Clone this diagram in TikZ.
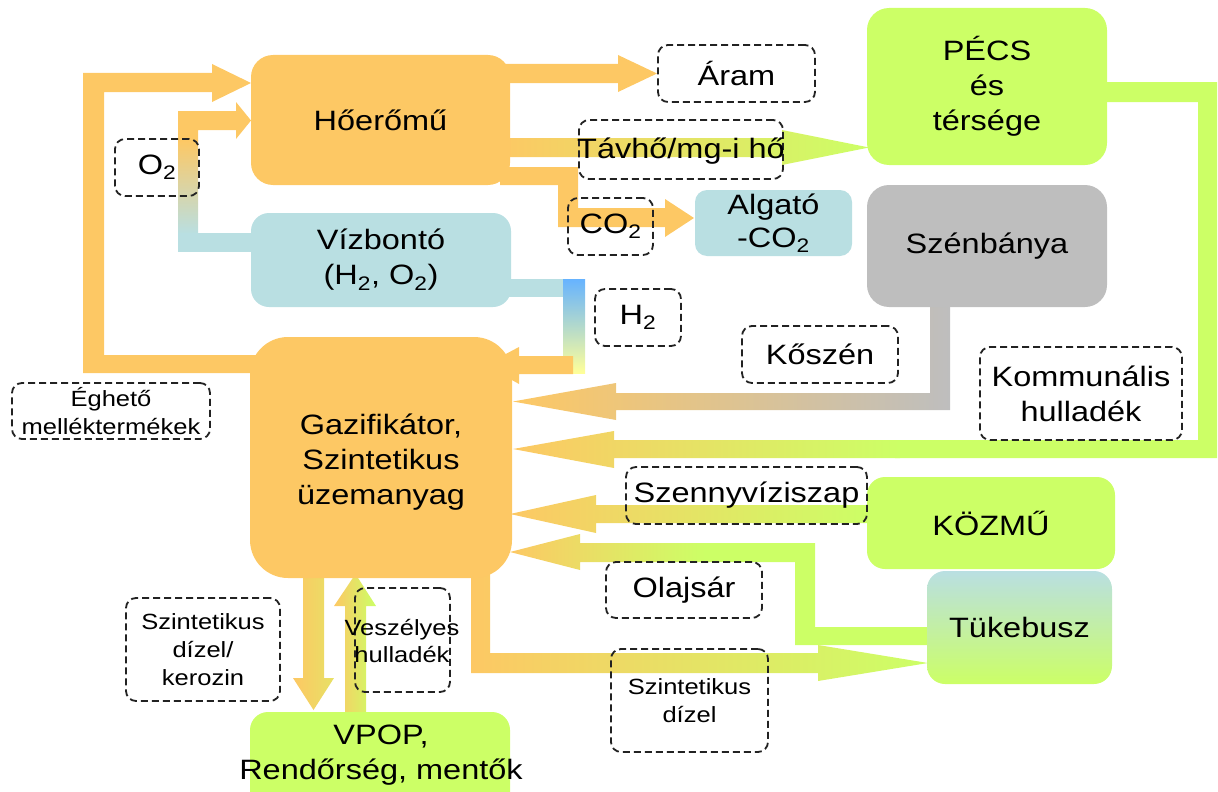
\documentclass[tikz,border=0pt]{standalone}
\usepackage{fontspec}
\setmainfont{Liberation Sans}[FakeStretch=1.16]
\definecolor{orng}{HTML}{FDC864}
\definecolor{grn}{HTML}{CCFF66}
\definecolor{lblue}{HTML}{B9DFE2}
\definecolor{gry}{HTML}{BEBEBE}
\definecolor{hblue}{HTML}{66B3FF}
\definecolor{hyel}{HTML}{FFFF99}
\definecolor{dline}{HTML}{222222}
\tikzset{
  big/.style={font=\fontsize{28}{35}\selectfont, align=center, inner sep=0pt, text=black},
  small/.style={font=\fontsize{22}{28}\selectfont, align=center, inner sep=0pt, text=black},
  box/.style={big, rounded corners=22pt},
  lbl/.style={big, draw=dline, line width=1.8pt, dash pattern=on 7pt off 4pt, rounded corners=10pt},
  slbl/.style={lbl, font=\fontsize{22}{28}\selectfont},
}
\begin{document}
\begin{tikzpicture}[x=1pt,y=-1pt]
\useasboundingbox (0,0) rectangle (1218,792);
\clip (0,0) rectangle (1218,792);

% ---- block arrows ----
% Egheto melleketermekek loop
\fill[orng] (262,355) -- (104,355) -- (104,92) -- (212,92) -- (212,102) -- (251,83) -- (212,64) -- (212,73) -- (83,73) -- (83,373) -- (262,373) -- cycle;
% O2 from Vizbonto to Hoeromu
\fill[orng] (178,111) -- (236,111) -- (236,102) -- (251,120.5) -- (236,139) -- (236,130) -- (198,130) -- (198,141) -- (178,141) -- cycle;
\shade[top color=orng, bottom color=lblue] (178,140) rectangle (198,234);
\fill[lblue] (178,233) rectangle (256,252);
% Aram
\fill[orng] (500,64) -- (618,64) -- (618,55) -- (657,73.5) -- (618,92) -- (618,83) -- (500,83) -- cycle;
% Tavho to Pecs
\shade[left color=orng, right color=grn] (500,138) -- (782,138) -- (782,130) -- (869,147.5) -- (782,165) -- (782,157) -- (500,157) -- cycle;
% CO2 to Algato
\fill[orng] (500,167) -- (578,167) -- (578,208) -- (665,208) -- (665,199) -- (694,218) -- (665,237) -- (665,227) -- (558,227) -- (558,185) -- (500,185) -- cycle;
% H2 from Vizbonto to Gazifikator
\fill[lblue] (500,279) rectangle (564,297);
\shade[top color=hblue, bottom color=hyel] (563,279) rectangle (585,373);
\fill[orng] (573,356) -- (519,356) -- (519,347) -- (485,365) -- (519,384) -- (519,374) -- (573,374) -- cycle;
% Koszen
\shade[left color=orng, right color=gry] (950,300) -- (950,410) -- (616,410) -- (616,420) -- (513,401.5) -- (616,383) -- (616,393) -- (930,393) -- (930,300) -- cycle;
% Kommunalis
\fill[grn] (1100,82) -- (1217,82) -- (1217,458) -- (895,458) -- (895,440) -- (1198,440) -- (1198,102) -- (1100,102) -- cycle;
\shade[left color=orng, right color=grn] (900,440) -- (614,440) -- (614,431) -- (513,449) -- (614,468) -- (614,458) -- (900,458) -- cycle;
% Szennyviziszap
\shade[left color=orng, right color=grn] (872,505) -- (596,505) -- (596,495) -- (510,514) -- (596,533) -- (596,523) -- (872,523) -- cycle;
% Tukebusz to Gazifikator
\fill[grn] (930,627) -- (815,627) -- (815,543) -- (700,543) -- (700,562) -- (795,562) -- (795,645) -- (930,645) -- cycle;
\shade[left color=orng, right color=grn] (705,543) -- (580,543) -- (580,534) -- (510,552) -- (580,570) -- (580,562) -- (705,562) -- cycle;
% Szintetikus dizel to Tukebusz
\shade[left color=orng, right color=grn] (471,570) -- (490,570) -- (490,653) -- (818,653) -- (818,645) -- (928,663) -- (818,681) -- (818,673) -- (471,673) -- cycle;
% down to VPOP
\shade[left color=orng, right color=orng!55!grn] (303,570) -- (324,570) -- (324,678) -- (334,678) -- (313.5,710) -- (293,678) -- (303,678) -- cycle;
% up from VPOP
\shade[left color=orng, right color=grn] (345,720) -- (345,606) -- (334,606) -- (355.5,574) -- (376,606) -- (366,606) -- (366,720) -- cycle;

% ---- boxes ----
\node[box, fill=orng, minimum width=259pt, minimum height=130pt] (hoe) at (380.5,120) {Hőerőmű};
\node[box, fill=lblue, minimum width=260pt, minimum height=94pt, rounded corners=18pt] (viz) at (381,260) {Vízbontó\\(H\textsubscript{2}, O\textsubscript{2})};
\node[box, fill=orng, minimum width=262pt, minimum height=241pt, rounded corners=38pt] (gaz) at (381,457.5) {};
\node[big] (gaztxt) at (381,462) {Gazifikátor,\\Szintetikus\\üzemanyag};
\node[box, fill=grn, minimum width=260pt, minimum height=100pt, rounded corners=18pt] (vpop) at (380,762) {};
\node[big] (vpoptxt) at (381,755) {VPOP,\\Rendőrség, mentők};
\node[box, fill=lblue, minimum width=157pt, minimum height=66pt, rounded corners=12pt, font=\fontsize{28}{33}\selectfont] (alg) at (773.5,223) {Algató\\-CO\textsubscript{2}};
\node[box, fill=grn, minimum width=240pt, minimum height=157pt] (pecs) at (987,86.5) {PÉCS\\és\\térsége};
\node[box, fill=gry, minimum width=240pt, minimum height=122pt] (szen) at (987,246) {Szénbánya};
\node[box, fill=grn, minimum width=248pt, minimum height=92pt, rounded corners=18pt] (kozmu) at (991,523) {KÖZMŰ};
\node[box, top color=lblue, bottom color=grn, minimum width=185pt, minimum height=113pt, rounded corners=18pt] (tuke) at (1019.5,627.5) {Tükebusz};

% ---- dashed labels ----
\node[lbl, minimum width=157pt, minimum height=57pt] (aram) at (736.5,73.5) {Áram};
\node[lbl, minimum width=204pt, minimum height=59pt] (tav) at (681,149.5) {};
\node[big] (tavtxt) at (681,151) {Távhő/mg-i hő};
\node[lbl, minimum width=85pt, minimum height=57pt] (co2) at (610.5,226.5) {CO\textsubscript{2}};
\node[lbl, minimum width=86pt, minimum height=57pt] (h2) at (638,317.5) {H\textsubscript{2}};
\node[lbl, minimum width=84pt, minimum height=57pt] (o2) at (157,167.5) {O\textsubscript{2}};
\node[lbl, minimum width=156pt, minimum height=57pt] (kosz) at (820,354.5) {Kőszén};
\node[lbl, minimum width=202pt, minimum height=93pt] (komm) at (1081,393.5) {Kommunális\\hulladék};
\node[lbl, minimum width=241pt, minimum height=57pt] (szenny) at (746.5,495.5) {Szennyvíziszap};
\node[lbl, minimum width=156pt, minimum height=56pt] (olaj) at (684,590) {Olajsár};
\node[slbl, minimum width=157pt, minimum height=103pt] (szdiz) at (689.5,700.5) {Szintetikus\\dízel};
\node[slbl, minimum width=154pt, minimum height=103pt] (szdk) at (203,649.5) {Szintetikus\\dízel/\\kerozin};
\node[slbl, minimum width=95pt, minimum height=104pt] (vesz) at (402.5,640) {};
\node[small] (vesztxt) at (402,641) {Veszélyes\\hulladék};
\node[slbl, minimum width=198pt, minimum height=56pt] (egh) at (111,411) {Éghető\\melléktermékek};
\end{tikzpicture}
\end{document}
